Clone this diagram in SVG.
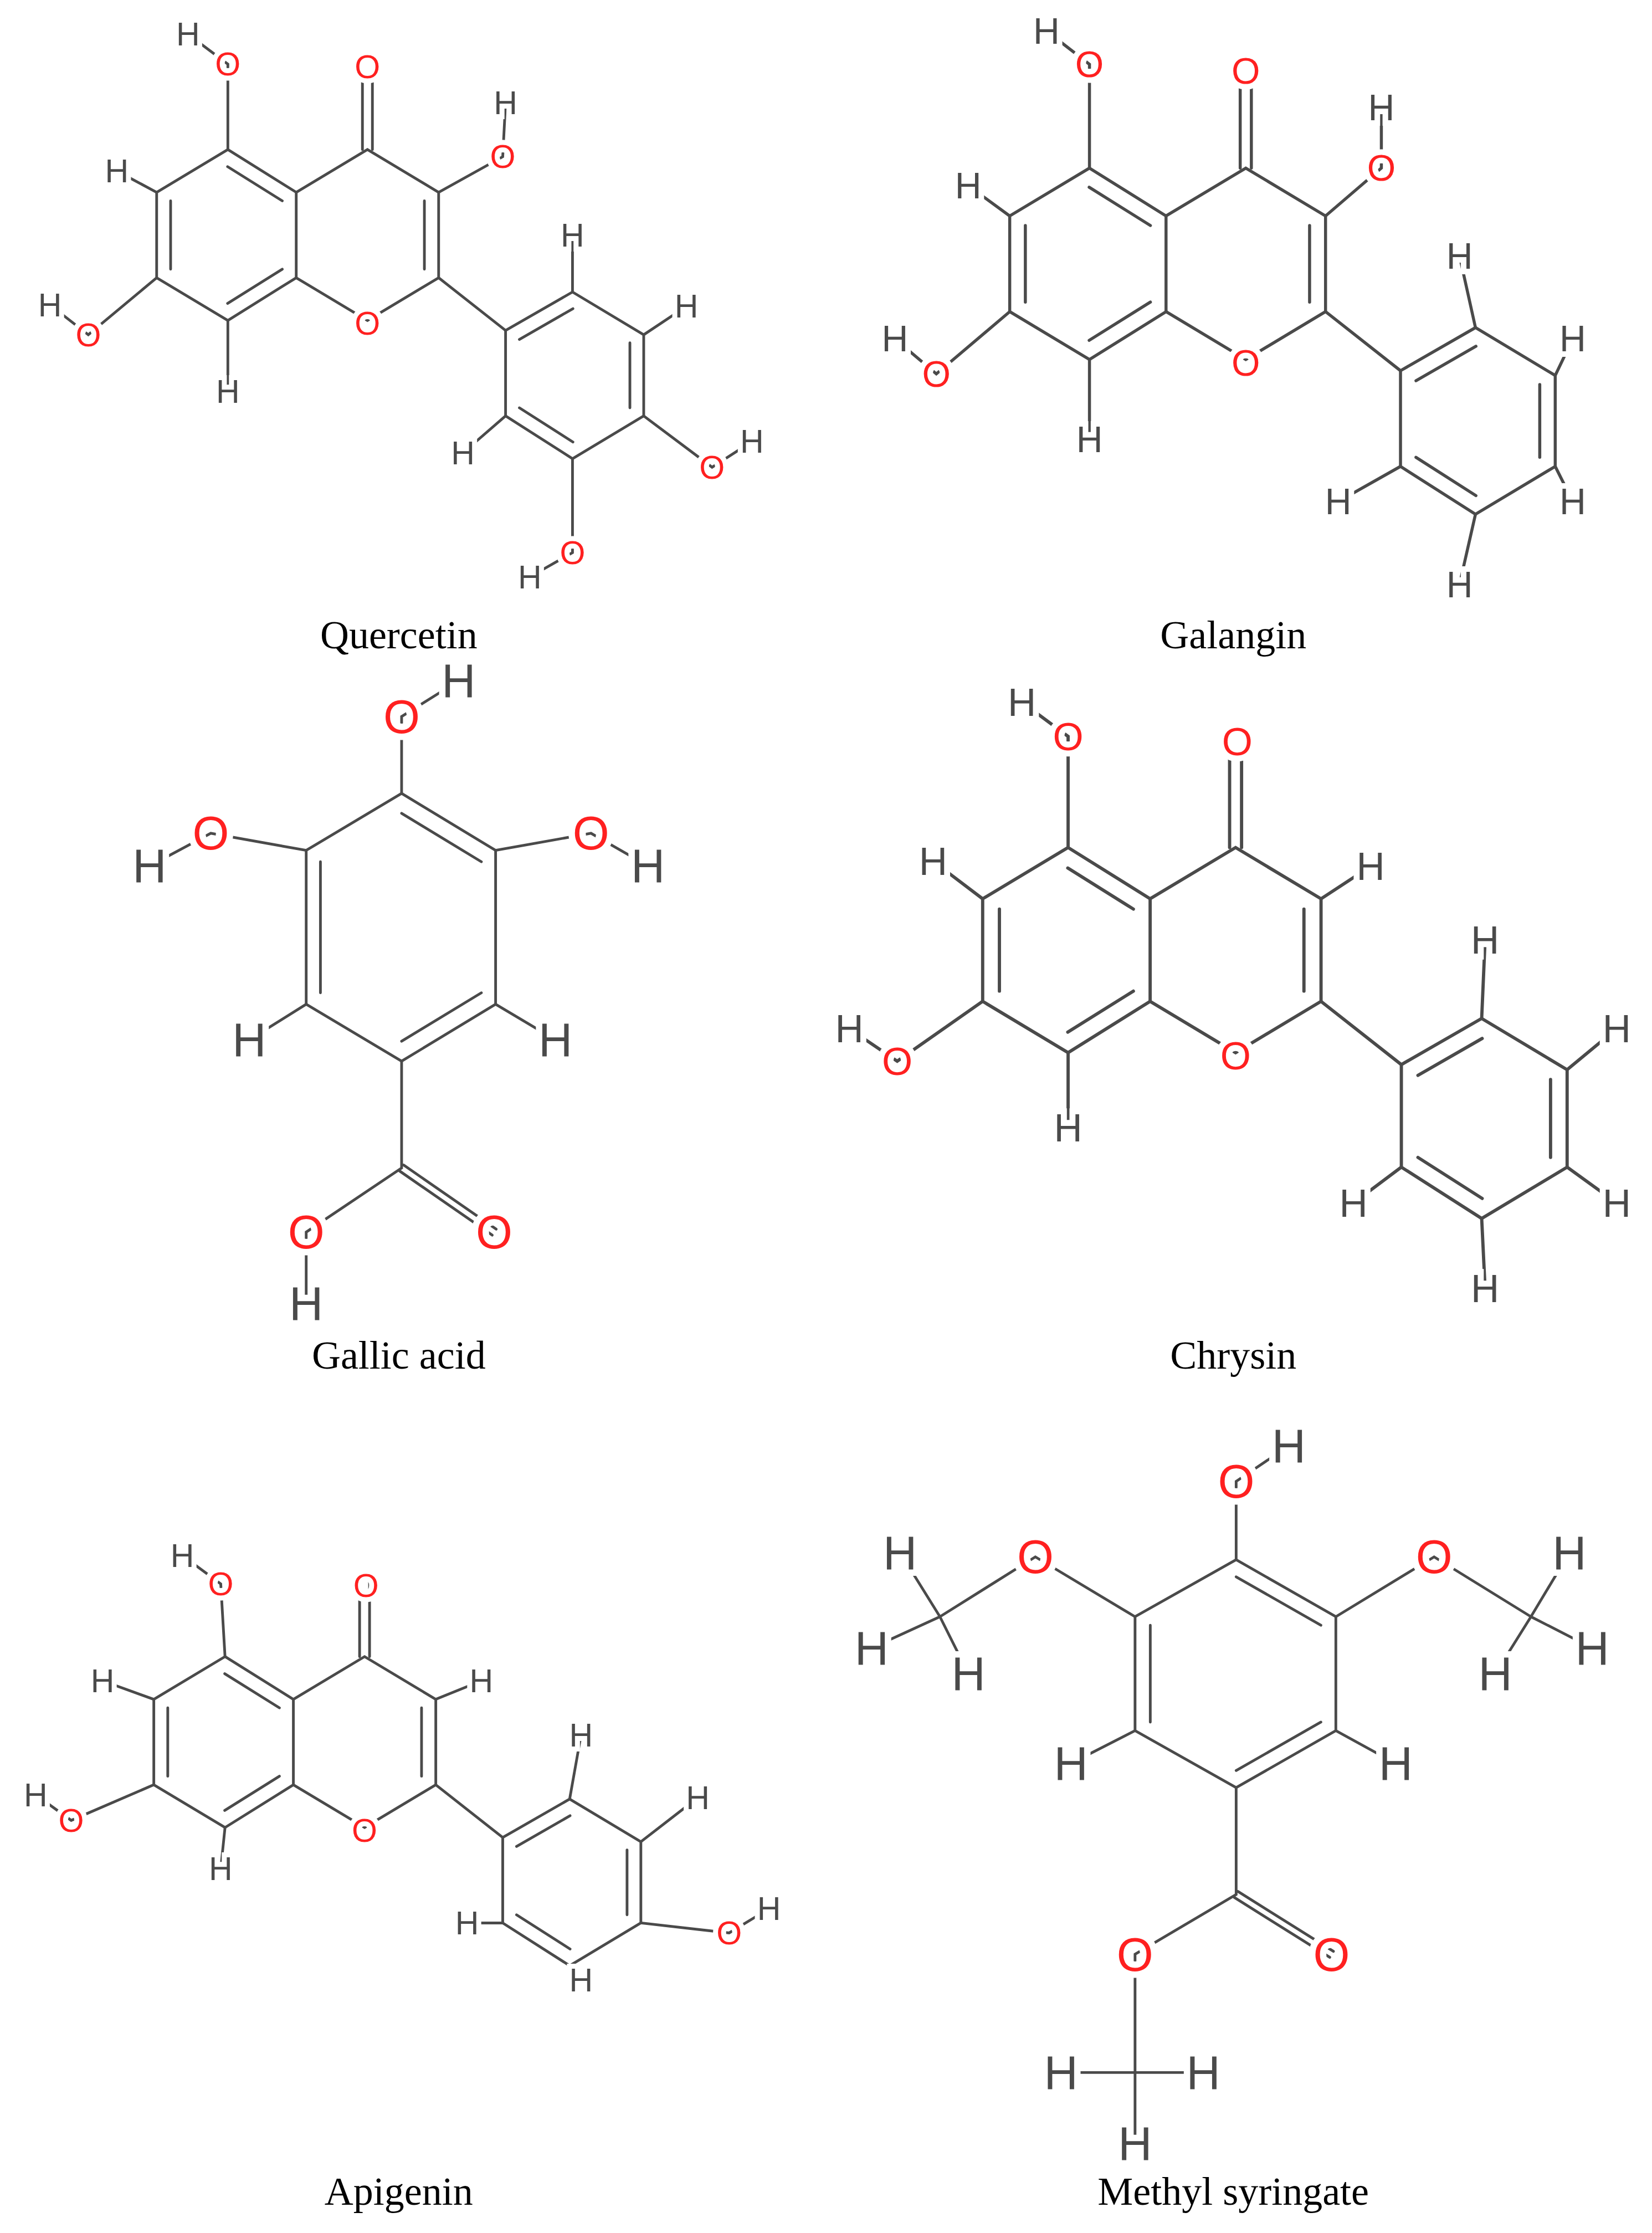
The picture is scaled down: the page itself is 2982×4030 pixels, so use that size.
<svg xmlns="http://www.w3.org/2000/svg" xmlns:xlink="http://www.w3.org/1999/xlink" width="2982" height="4030" viewBox="0 0 2982 4030">
<style>
.b{fill:none;stroke:#4a4a4a;stroke-width:1.9;stroke-linecap:round}
.l{font-family:"Liberation Sans",Arial,sans-serif;font-size:23px;text-anchor:middle;dominant-baseline:central;paint-order:stroke;stroke:#fff;stroke-width:7px}
.L{font-family:"Liberation Sans",Arial,sans-serif;font-size:33px;text-anchor:middle;dominant-baseline:central;paint-order:stroke;stroke:#fff;stroke-width:9px}
.o{fill:#ff2020}
.h{fill:#4a4a4a}
.n{font-family:"Liberation Serif","Times New Roman",serif;font-size:28px;text-anchor:middle;fill:#000}
</style>
<defs>
<g id="flav">
<polygon class="b" points="160,105 110,135 110,195 160,225 208,195 208,135"/>
<polyline class="b" points="208,135 258,105 308,135 308,195 258,225 208,195"/>
<path class="b" d="M119.8,141L119.8,189M159.8,213L198.2,189M198.2,141L159.8,117M298,141L298,189M254.5,105L254.5,50M261.5,105L261.5,50M308,195L355,232"/>
<polygon class="b" points="355,232 402,205 452,235 452,292 402,322 355,292"/>
<path class="b" d="M364.7,238.3L402.3,216.7M442.3,240.7L442.3,286.3M402.3,310.3L364.7,286.3"/>
<text class="l o" x="258" y="227">O</text>
</g>
</defs>
<rect width="2982" height="4030" fill="#fff"/>
<g transform="scale(2.5707)">
<g id="quercetin">
<path class="b" d="M160,105L160,45L132,24M308,135L353,110L355,72M110,135L82,120M110,195L62,235L35,214M160,225L160,275M402,205L402,165M452,235L482,215M452,292L500,328L528,310M402,322L402,388L372,405M355,292L325,318"/>
<use xlink:href="#flav"/>
<text class="l o" x="160" y="45">O</text><text class="l h" x="132" y="24">H</text>
<text class="l o" x="258" y="47">O</text>
<text class="l o" x="353" y="110">O</text><text class="l h" x="355" y="72">H</text>
<text class="l h" x="82" y="120">H</text>
<text class="l o" x="62" y="235">O</text><text class="l h" x="35" y="214">H</text>
<text class="l h" x="160" y="275">H</text>
<text class="l h" x="402" y="165">H</text>
<text class="l h" x="482" y="215">H</text>
<text class="l o" x="500" y="328">O</text><text class="l h" x="528" y="310">H</text>
<text class="l o" x="402" y="388">O</text><text class="l h" x="372" y="405">H</text>
<text class="l h" x="325" y="318">H</text>
<text class="n" x="280" y="455">Quercetin</text>
</g>
<g id="galangin">
<g transform="translate(765,118) scale(1.12) translate(-160,-105)">
<path class="b" d="M160,105L160,40L133,19M308,135L343,105L343,67M110,135L84,116M110,195L64,234L38,212M160,225L160,275M402,205L392,160M452,235L463,212M452,292L463,314M402,322L392,366M355,292L316,314"/>
<use xlink:href="#flav"/>
<text class="l o" x="160" y="40">O</text><text class="l h" x="133" y="19">H</text>
<text class="l o" x="258" y="44">O</text>
<text class="l o" x="343" y="105">O</text><text class="l h" x="343" y="67">H</text>
<text class="l h" x="84" y="116">H</text>
<text class="l o" x="64" y="234">O</text><text class="l h" x="38" y="212">H</text>
<text class="l h" x="160" y="275">H</text>
<text class="l h" x="392" y="160">H</text>
<text class="l h" x="463" y="212">H</text>
<text class="l h" x="463" y="314">H</text>
<text class="l h" x="392" y="366">H</text>
<text class="l h" x="316" y="314">H</text>
</g>
<text class="n" x="866" y="455">Galangin</text>
</g>
<g id="gallic_acid">
<polygon class="b" points="282,557 348,597 348,705 282,745 215,705 215,597"/>
<path class="b" d="M282,571L338,605M338,697L282,731M225,697L225,605M282,557L282,503L322,478M215,597L148,585L105,608M348,597L415,585L455,608M215,705L175,730M348,705L390,730M282,745L282,820L215,865L215,915M280.6,822.1L345.6,867.1M283.4,817.9L348.4,862.9"/>
<text class="L o" x="282" y="503">O</text><text class="L h" x="322" y="478">H</text>
<text class="L o" x="148" y="585">O</text><text class="L h" x="105" y="608">H</text>
<text class="L o" x="415" y="585">O</text><text class="L h" x="455" y="608">H</text>
<text class="L h" x="175" y="730">H</text><text class="L h" x="390" y="730">H</text>
<text class="L o" x="347" y="865">O</text>
<text class="L o" x="215" y="865">O</text><text class="L h" x="215" y="915">H</text>
<text class="n" x="280" y="961">Gallic acid</text>
</g>
<g id="chrysin">
<g transform="translate(750,595) scale(1.2) translate(-160,-105)">
<path class="b" d="M160,105L160,40L133,20M308,135L337,116M110,135L81,113M110,195L60,230L32,211M160,225L160,269M402,205L404,159M452,235L481,211M452,292L481,313M402,322L404,363M355,292L327,313"/>
<use xlink:href="#flav"/>
<text class="l o" x="160" y="40">O</text><text class="l h" x="133" y="20">H</text>
<text class="l o" x="259" y="43">O</text>
<text class="l h" x="337" y="116">H</text>
<text class="l h" x="81" y="113">H</text>
<text class="l o" x="60" y="230">O</text><text class="l h" x="32" y="211">H</text>
<text class="l h" x="160" y="269">H</text>
<text class="l h" x="404" y="159">H</text>
<text class="l h" x="481" y="211">H</text>
<text class="l h" x="481" y="313">H</text>
<text class="l h" x="404" y="363">H</text>
<text class="l h" x="327" y="313">H</text>
</g>
<text class="n" x="866" y="961">Chrysin</text>
</g>
<g id="apigenin">
<g transform="translate(-2,1058)">
<path class="b" d="M160,105L157,54L130,34M308,135L340,122M110,135L74,122M110,195L52,220L27,202M160,225L157,254M402,205L410,160M452,235L492,204M452,292L514,299L542,282M402,322L410,332M355,292L330,292"/>
<use xlink:href="#flav"/>
<text class="l o" x="157" y="54">O</text><text class="l h" x="130" y="34">H</text>
<text class="l o" x="259" y="55">O</text>
<text class="l h" x="340" y="122">H</text>
<text class="l h" x="74" y="122">H</text>
<text class="l o" x="52" y="220">O</text><text class="l h" x="27" y="202">H</text>
<text class="l h" x="157" y="254">H</text>
<text class="l h" x="410" y="160">H</text>
<text class="l h" x="492" y="204">H</text>
<text class="l o" x="514" y="299">O</text><text class="l h" x="542" y="282">H</text>
<text class="l h" x="410" y="332">H</text>
<text class="l h" x="330" y="292">H</text>
</g>
<text class="n" x="280" y="1548">Apigenin</text>
</g>
<g id="methyl_syringate">
<polygon class="b" points="868,1095 938,1135 938,1215 868,1255 797,1215 797,1135"/>
<path class="b" d="M868,1107L927.5,1141M927.5,1209L868,1243M807.7,1209L807.7,1141M868,1095L868,1040L905,1015M797,1135L727,1093L660,1135L632,1090M660,1135L612,1157M660,1135L680,1175M938,1135L1007,1093L1075,1135L1102,1090M1075,1135L1118,1157M1075,1135L1050,1175M797,1215L752,1238M938,1215L980,1238M868,1255L868,1330L797,1372L797,1455L745,1455M797,1455L845,1455M797,1455L797,1505M866.7,1332.1L933.7,1374.1M869.3,1327.9L936.3,1369.9"/>
<text class="L o" x="868" y="1040">O</text><text class="L h" x="905" y="1015">H</text>
<text class="L o" x="727" y="1093">O</text>
<text class="L h" x="632" y="1090">H</text><text class="L h" x="612" y="1157">H</text><text class="L h" x="680" y="1175">H</text>
<text class="L o" x="1007" y="1093">O</text>
<text class="L h" x="1102" y="1090">H</text><text class="L h" x="1118" y="1157">H</text><text class="L h" x="1050" y="1175">H</text>
<text class="L h" x="752" y="1238">H</text><text class="L h" x="980" y="1238">H</text>
<text class="L o" x="935" y="1372">O</text>
<text class="L o" x="797" y="1372">O</text>
<text class="L h" x="745" y="1455">H</text><text class="L h" x="845" y="1455">H</text><text class="L h" x="797" y="1505">H</text>
<text class="n" x="866" y="1548">Methyl syringate</text>
</g>
</g>
</svg>
